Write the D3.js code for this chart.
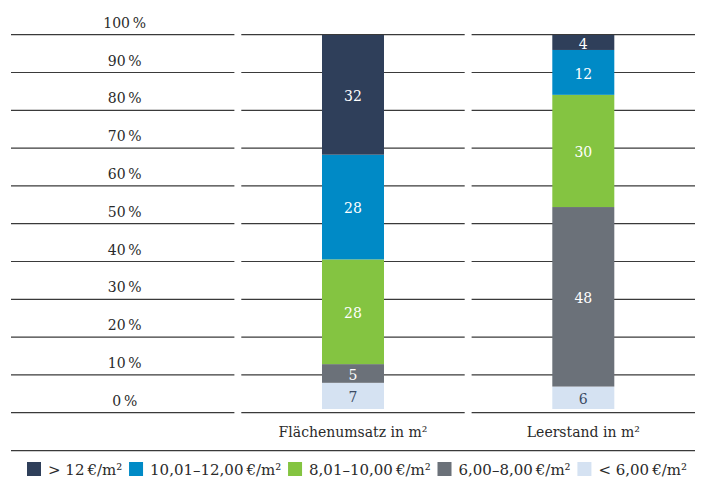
<!DOCTYPE html>
<html>
<head>
<meta charset="utf-8">
<script src="https://cdn.jsdelivr.net/npm/d3@7"></script>
<style>
  body { margin: 0; background: #fff; }
  text { font-family: "DejaVu Serif", "Liberation Serif", serif; }
</style>
</head>
<body>
<div class="chart"></div>
<script>
// stacked 100% columns: price classes for take-up and vacancy

var categories = ["Flächenumsatz in m²", "Leerstand in m²"];
var seriesNames = ["< 6,00\u202F€/m²", "6,00–8,00\u202F€/m²", "8,01–10,00\u202F€/m²", "10,01–12,00\u202F€/m²", "> 12\u202F€/m²"];
// values per category, bottom segment first
var below6 = [7, 6];
var from6to8 = [5, 48];
var from8to10 = [28, 30];
var from10to12 = [28, 12];
var above12 = [32, 4];
var tickValues = [0, 10, 20, 30, 40, 50, 60, 70, 80, 90, 100];
var legendOrder = ["> 12\u202F€/m²", "10,01–12,00\u202F€/m²", "8,01–10,00\u202F€/m²", "6,00–8,00\u202F€/m²", "< 6,00\u202F€/m²"];

var colors = {};
colors[seriesNames[0]] = "#d5e2f2";
colors[seriesNames[1]] = "#6b7179";
colors[seriesNames[2]] = "#84c441";
colors[seriesNames[3]] = "#008ac6";
colors[seriesNames[4]] = "#2f3f5a";

var svgWidth = 707;
var svgHeight = 477;
var fontSize = "14px";

var svg = d3.select(".chart")
  .append("svg")
  .attr("width", svgWidth)
  .attr("height", svgHeight);

// build rows for d3.stack
var columns = [below6, from6to8, from8to10, from10to12, above12];
var rows = categories.map(function(c, i) {
  var row = { category: c };
  seriesNames.forEach(function(s, j) { row[s] = columns[j][i]; });
  return row;
});
var stacked = d3.stack().keys(seriesNames)(rows);

// three columns: axis labels + two categories
var xBand = d3.scaleBand()
  .domain(["axis"].concat(categories))
  .range([11, 695])
  .paddingInner(0.03);

var yGrid = d3.scaleLinear().domain([0, 100]).range([412.7, 34.7]);
var yBar = d3.scaleLinear().domain([0, 100]).range([409, 35]);

var barWidth = 62;

// gridlines, split per column
var grid = svg.append("g");
tickValues.forEach(function(t) {
  xBand.domain().forEach(function(col) {
    grid.append("line")
      .attr("x1", xBand(col))
      .attr("x2", xBand(col) + xBand.bandwidth())
      .attr("y1", yGrid(t))
      .attr("y2", yGrid(t))
      .attr("stroke", "#3a3a3a")
      .attr("stroke-width", 1.2);
  });
});

// bottom line under category labels
svg.append("line")
  .attr("x1", 11)
  .attr("x2", 695)
  .attr("y1", 450.7)
  .attr("y2", 450.7)
  .attr("stroke", "#3a3a3a")
  .attr("stroke-width", 1.2);

// tick labels above each line in the left column
svg.append("g").selectAll("text")
  .data(tickValues)
  .enter().append("text")
    .attr("x", xBand("axis") + xBand.bandwidth() / 2 + 2)
    .attr("y", function(d) { return yGrid(d) - 7; })
    .attr("text-anchor", "middle")
    .attr("font-size", fontSize)
    .attr("fill", "#2a2a2a")
    .text(function(d) { return d + "\u202F%"; });

// bars
var layers = svg.append("g").selectAll("g")
  .data(stacked)
  .enter().append("g")
    .attr("fill", function(d) { return colors[d.key]; });

layers.selectAll("rect")
  .data(function(d) { return d; })
  .enter().append("rect")
    .attr("x", function(d) { return xBand(d.data.category) + xBand.bandwidth() / 2 - barWidth / 2; })
    .attr("y", function(d) { return yBar(d[1]); })
    .attr("width", barWidth)
    .attr("height", function(d) { return yBar(d[0]) - yBar(d[1]); });

// value labels inside segments
stacked.forEach(function(layer) {
  svg.append("g").selectAll("text")
    .data(layer)
    .enter().append("text")
      .attr("x", function(d) { return xBand(d.data.category) + xBand.bandwidth() / 2; })
      .attr("y", function(d) { return (yBar(d[0]) + yBar(d[1])) / 2; })
      .attr("dy", "0.45em")
      .attr("text-anchor", "middle")
      .attr("font-size", fontSize)
      .attr("fill", layer.key === seriesNames[0] ? "#3b4a63" : "#fff")
      .text(function(d) { return d[1] - d[0]; });
});

// category labels
svg.append("g").selectAll("text")
  .data(categories)
  .enter().append("text")
    .attr("x", function(d) { return xBand(d) + xBand.bandwidth() / 2; })
    .attr("y", 436.5)
    .attr("text-anchor", "middle")
    .attr("font-size", fontSize)
    .attr("fill", "#2a2a2a")
    .text(function(d) { return d; });

// legend, spread between left and right edge
var legend = svg.append("g");
var legendLeft = 27, legendRight = 687, box = 14, boxGap = 7;
var items = legend.selectAll("g")
  .data(legendOrder)
  .enter().append("g");
items.append("rect")
  .attr("width", box)
  .attr("height", box)
  .attr("y", 462)
  .attr("fill", function(d) { return colors[d]; });
items.append("text")
  .attr("x", box + boxGap)
  .attr("y", 474.5)
  .attr("font-size", "15px")
  .attr("fill", "#2a2a2a")
  .text(function(d) { return d; });

var widths = [];
items.each(function() { widths.push(box + boxGap + d3.select(this).select("text").node().getComputedTextLength()); });
var spare = (legendRight - legendLeft - d3.sum(widths)) / (legendOrder.length - 1);
var pos = legendLeft;
items.attr("transform", function(d, i) {
  var x = pos;
  pos += widths[i] + spare;
  return "translate(" + x + ",0)";
});
</script>
</body>
</html>
